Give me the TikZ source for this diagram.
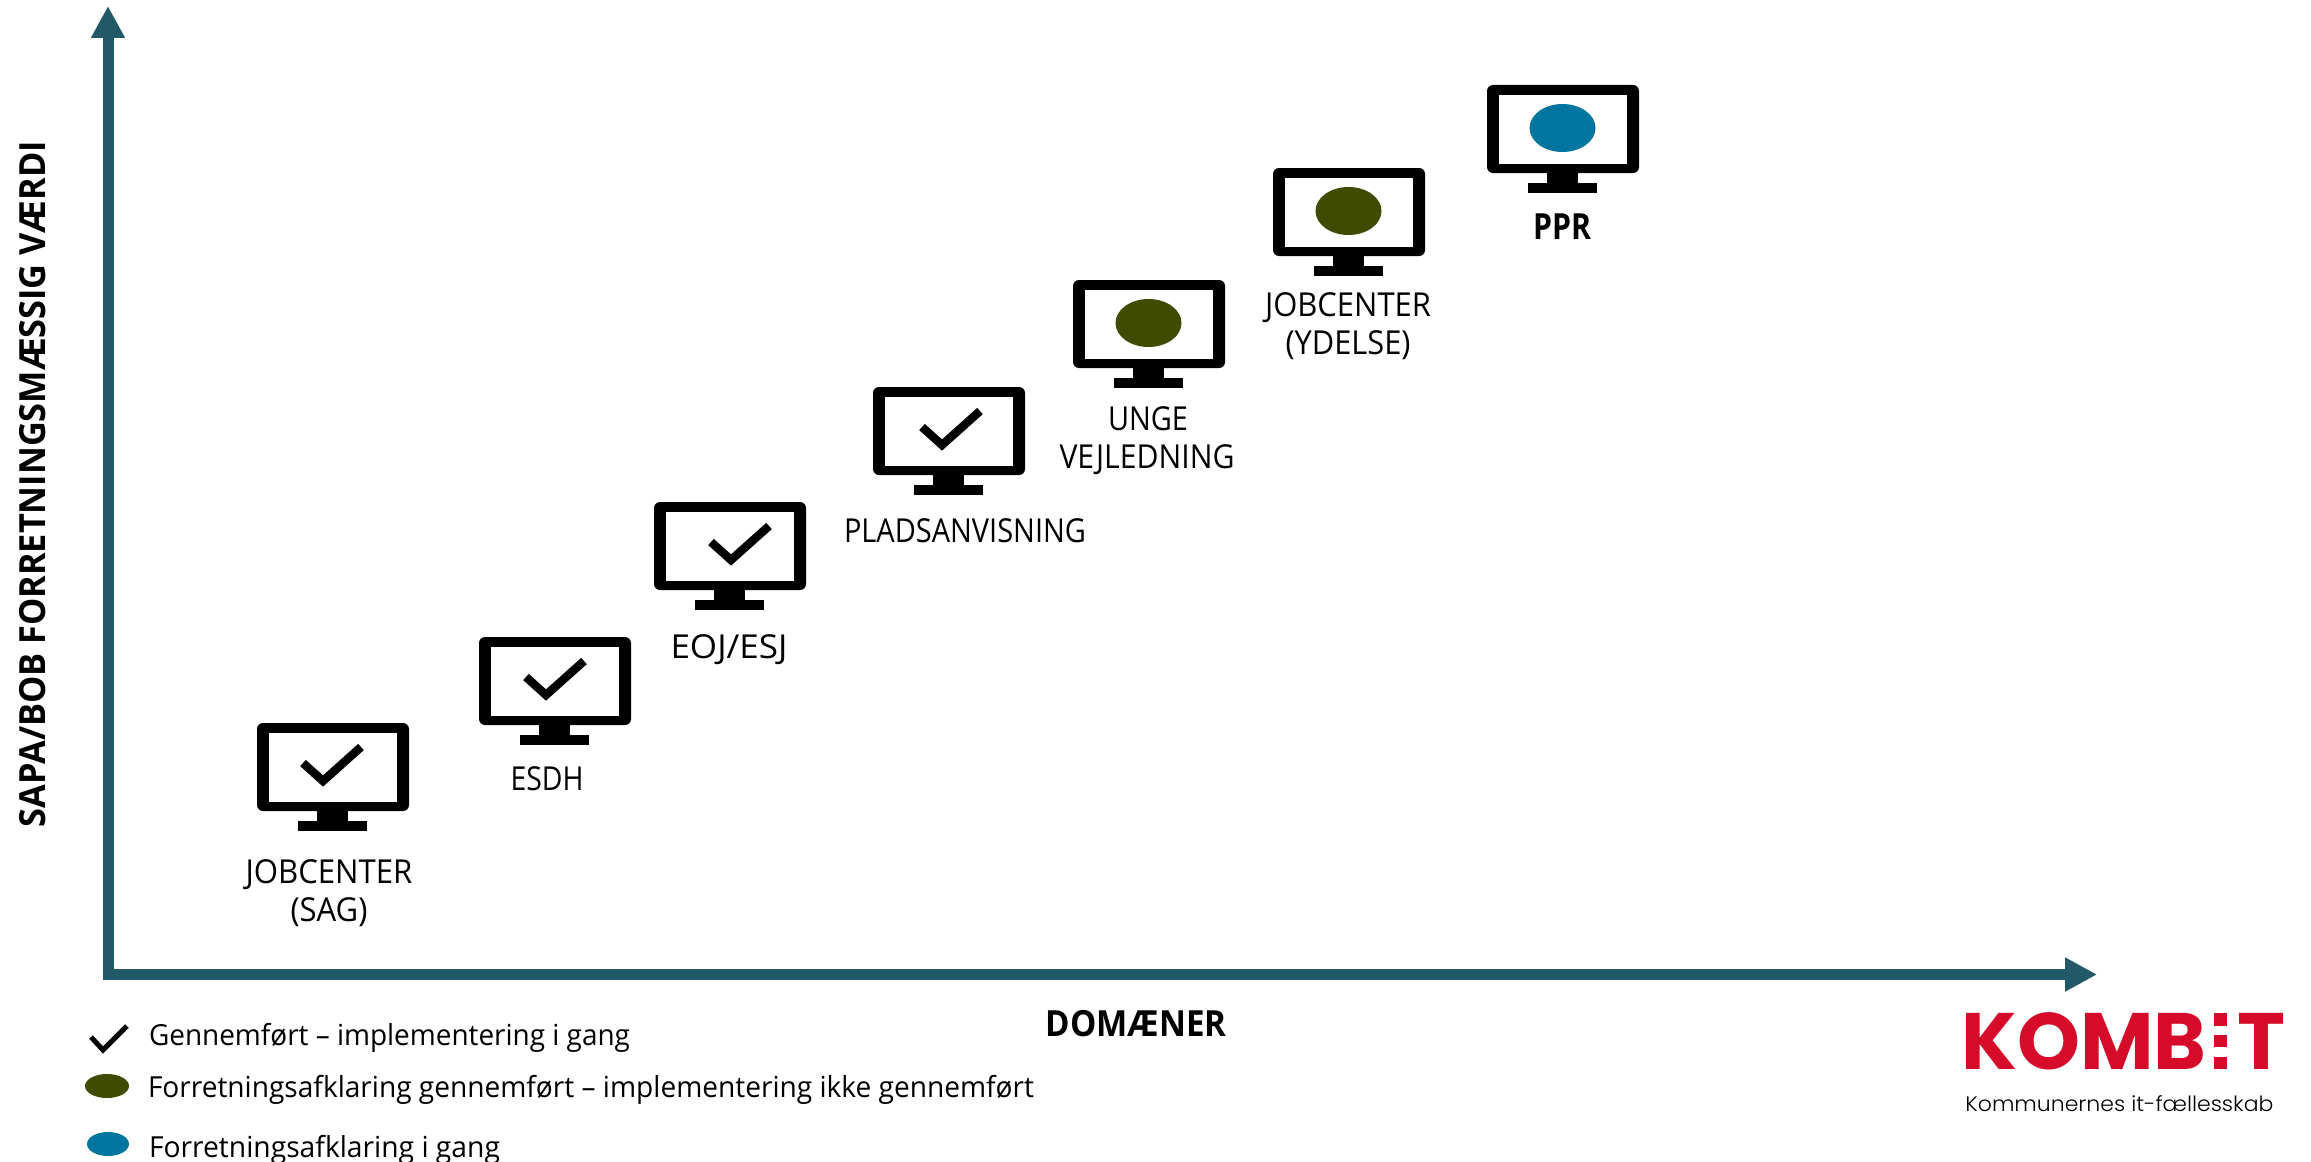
\documentclass[tikz,border=0pt]{standalone}
\usepackage{fontspec,graphicx}
\setmainfont{Open Sans}
\newfontfamily\logofont{Poppins}
\newfontfamily\logolight{Poppins Light}
\usetikzlibrary{arrows.meta}
\definecolor{axiscol}{RGB}{33,89,104}
\definecolor{olivedot}{RGB}{63,76,0}
\definecolor{bluedot}{RGB}{0,117,159}
\definecolor{logored}{RGB}{214,11,42}
\newsavebox\fitbox
\newcommand\fitw[2]{\sbox\fitbox{#2}\edef\fitfactor{\fpeval{#1*0.5/\wd\fitbox}}\scalebox{\fitfactor}[1]{\usebox\fitbox}}
\tikzset{
  x=0.5pt,y=-0.5pt,
  axis/.style={draw=axiscol,line width=5.5pt,-{Triangle[length=16pt,width=16pt]}},
  lab/.style={inner sep=0pt,outer sep=0pt,anchor=base,font=\fontsize{16.5}{20}\selectfont,text=black},
  blab/.style={lab,font=\fontsize{18}{22}\selectfont\bfseries},
  legend/.style={lab,anchor=base west,font=\fontsize{14.5}{18}\selectfont},
  tick/.style={draw=black,line width=4.2pt,line cap=butt,line join=miter},
  pics/monitor/.style={code={
    \fill[black,rounded corners=3pt] (0,0) rectangle (152,88);
    \fill[white] (12,10) rectangle (140,78.5);
    \fill[black] (60,88) rectangle (91,98);
    \fill[black] (41,98) rectangle (110,108);
  }},
  pics/monitorcheck/.style={code={
    \pic {monitor};
    \draw[tick] (46+#1,40) -- (66+#1,58) -- (104+#1,24);
  }},
  pics/monitorcheck/.default=0,
  pics/monitordot/.style={code={
    \pic {monitor};
    \fill[#1] (75.5,43) ellipse [x radius=16.5pt,y radius=12pt];
  }},
}
\begin{document}
\begin{tikzpicture}
\useasboundingbox (0,0) rectangle (2311,1161);
% axes
\coordinate (ytip) at (108,6);
\coordinate (xtip) at (2097,974.5);
\coordinate (ostart) at (102.5,974.5);
\coordinate (ybot) at (108,980);
\draw[axis] (ybot) -- (ytip);
\draw[axis] (ostart) -- (xtip);
% monitors
\pic (m1) at (257,723) {monitorcheck};
\pic (m2) at (479,637) {monitorcheck=1};
\pic (m3) at (654,502) {monitorcheck=11};
\pic (m4) at (873,387) {monitorcheck=3};
\pic (m5) at (1073,280) {monitordot=olivedot};
\pic (m6) at (1273,168) {monitordot=olivedot};
\pic (m7) at (1487,85) {monitordot=bluedot};
% labels
\node[lab] (l1a) at (329,883) {\fitw{167}{JOBCENTER}};
\node[lab] (l1b) at (329,921) {\fitw{77}{(SAG)}};
\node[lab] (l2) at (547,790) {\fitw{73}{ESDH}};
\node[lab] (l3) at (729,658) {\fitw{117}{EOJ/ESJ}};
\node[lab] (l4) at (965,542) {\fitw{242}{PLADSANVISNING}};
\node[lab] (l5a) at (1148,430) {\fitw{80}{UNGE}};
\node[lab] (l5b) at (1147,468) {\fitw{175}{VEJLEDNING}};
\node[lab] (l6a) at (1348,316) {\fitw{166}{JOBCENTER}};
\node[lab] (l6b) at (1348,354) {\fitw{125}{(YDELSE)}};
\node[blab] (l7) at (1562,239) {\fitw{58}{PPR}};
\node[blab] (xlab) at (1136,1036) {\fitw{181}{DOMÆNER}};
\node[blab,rotate=90] (ylab) at (46,484) {\fitw{686}{SAPA/BOB FORRETNINGSMÆSSIG VÆRDI}};
% legend
\draw[tick,line width=2.5pt] (91,1037) -- (103,1050) -- (127,1026);
\fill[olivedot] (107,1086) ellipse [x radius=11pt,y radius=6pt];
\fill[bluedot] (108,1144) ellipse [x radius=10.5pt,y radius=6pt];
\node[legend] (t1) at (149,1045) {\fitw{481}{Gennemført – implementering i gang}};
\node[legend] (t2) at (148,1097) {\fitw{886}{Forretningsafklaring gennemført – implementering ikke gennemført}};
\node[legend] (t3) at (149,1157) {\fitw{351}{Forretningsafklaring i gang}};
% logo
\node[inner sep=0pt,anchor=base west,text=logored,font=\fontsize{40}{40}\logofont\bfseries] (logoa) at (1961,1069) {\fitw{245}{KOMB}};
\node[inner sep=0pt,anchor=base west,text=logored,font=\fontsize{40}{40}\logofont\bfseries] (logob) at (2237,1069) {\fitw{48}{T}};
\fill[logored] (2214,1013) rectangle (2227,1026);
\fill[logored] (2214,1035) rectangle (2227,1047);
\fill[logored] (2214,1057) rectangle (2227,1069);
\node[inner sep=0pt,anchor=base west,text=black,font=\fontsize{10.5}{12}\logolight] (logoc) at (1965,1111) {\fitw{308}{Kommunernes it-fællesskab}};
\end{tikzpicture}
\end{document}
